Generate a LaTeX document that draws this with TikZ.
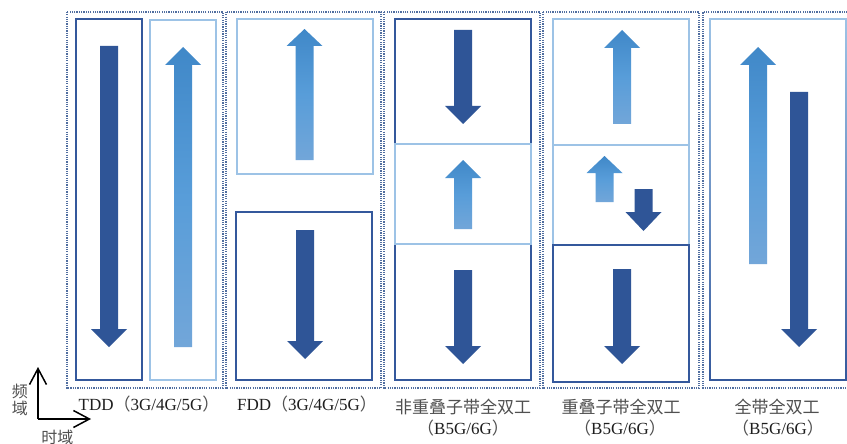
\documentclass[tikz,border=0pt]{standalone}
\usepackage{fontspec}
\setmainfont{Liberation Serif}
\newfontfamily\cjk{Noto Sans CJK SC}
\usetikzlibrary{arrows.meta}
\definecolor{dkblue}{RGB}{47,85,151}
\definecolor{dkline}{RGB}{52,88,156}
\definecolor{ltline}{RGB}{157,195,230}
\definecolor{ultop}{RGB}{64,136,200}
\definecolor{ulmid}{RGB}{88,157,217}
\definecolor{ulbot}{RGB}{114,166,217}
\definecolor{dotc}{RGB}{80,110,160}
\definecolor{txt}{RGB}{30,30,30}
\definecolor{cjktxt}{RGB}{80,80,80}
\tikzset{
  dlarrow/.style={fill=dkblue},
  ularrow/.style={top color=ultop, bottom color=ulbot, middle color=ulmid},
  dlbox/.style={draw=dkline, line width=1.8pt},
  ulbox/.style={draw=ltline, line width=1.8pt},
  groupbox/.style={draw=dotc, line width=1.3pt, dash pattern=on 1.2pt off 1.1pt},
  lbl/.style={text=txt, font=\fontsize{17}{20}\selectfont, inner sep=0pt},
  axislbl/.style={text=cjktxt, font=\cjk\fontsize{16}{19}\selectfont, inner sep=0pt},
  axisline/.style={line width=1.5pt, -{Straight Barb[length=16pt,width=17pt]}}
}
% #1 centre x, #2 shaft end, #3 head base, #4 tip
\newcommand\mydn[4]{\fill[dlarrow] (#1-9,#2) -- (#1+9,#2) -- (#1+9,#3) -- (#1+18,#3) -- (#1,#4) -- (#1-18,#3) -- (#1-9,#3) -- cycle;}
\newcommand\myup[4]{\shade[ularrow] (#1-9,#2) -- (#1+9,#2) -- (#1+9,#3) -- (#1+18,#3) -- (#1,#4) -- (#1-18,#3) -- (#1-9,#3) -- cycle;}
\newcommand\cz[1]{{\cjk\color{cjktxt}#1}}
\begin{document}
\begin{tikzpicture}[x=1pt,y=-1pt]
\useasboundingbox (0,0) rectangle (847,444);
\fill[white] (0,0) rectangle (847,444);

% group frames
\draw[groupbox] (67,12) rectangle (223,388);
\draw[groupbox] (226,12) rectangle (381,388);
\draw[groupbox] (384,12) rectangle (540,388);
\draw[groupbox] (543,12) rectangle (699,388);
\draw[groupbox] (852,12) -- (703,12) -- (703,388) -- (852,388);

% TDD
\draw[dlbox] (76,19) rectangle (142,380);
\draw[ulbox] (150,20) rectangle (216,380);
\mydn{109}{46}{329}{347}
\myup{183}{347}{65}{47}

% FDD
\draw[ulbox] (237,19) rectangle (373,174);
\draw[dlbox] (236,212) rectangle (372,380);
\myup{304.5}{160}{46}{29}
\mydn{305}{230}{341}{359}

% non-overlapping sub-band full duplex
\draw[dlbox] (395,19) rectangle (531,144);
\draw[dlbox] (395,244) rectangle (531,380);
\draw[ulbox] (395,144) rectangle (531,244);
\mydn{463}{30}{106}{124}
\myup{463}{229}{178}{160}
\mydn{463}{270}{346}{364}

% overlapping sub-band full duplex
\draw[ulbox] (553,19) rectangle (689,145);
\draw[ulbox] (553,145) rectangle (689,245);
\draw[ulbox, line width=2.6pt] (553,145) -- (689,145);
\draw[dlbox] (553,245) rectangle (689,382);
\myup{622}{124}{48}{30}
\myup{604.5}{202}{173}{156}
\mydn{643.5}{189}{212}{231}
\mydn{622}{269}{346}{364}

% full-band full duplex
\shade[top color=ltline, bottom color=dkline, middle color=ltline!55!dkline, even odd rule]
  (709.1,18.1) rectangle (846.9,380.9) (710.9,19.9) rectangle (845.1,379.1);
\myup{758}{264}{65}{47}
\mydn{799}{92}{329}{347}

% labels
\node[lbl] (l1) at (149,404) {TDD\cz{（}3G/4G/5G\cz{）}};
\node[lbl] (l2) at (307,404) {FDD\cz{（}3G/4G/5G\cz{）}};
\node[lbl] (l3a) at (463,407) {\cz{非重叠子带全双工}};
\node[lbl] (l3b) at (463,428) {\cz{（}B5G/6G\cz{）}};
\node[lbl] (l4a) at (621,407) {\cz{重叠子带全双工}};
\node[lbl] (l4b) at (620,428) {\cz{（}B5G/6G\cz{）}};
\node[lbl] (l5a) at (777,407) {\cz{全带全双工}};
\node[lbl] (l5b) at (778,428) {\cz{（}B5G/6G\cz{）}};

% axes
\coordinate (ao) at (38,419);
\coordinate (ay) at (38,367);
\coordinate (ax) at (91,419);
\draw[axisline] (ao) -- (ay);
\draw[axisline] (ao) -- (ax);
\node[axislbl] (fy1) at (20,391) {频};
\node[axislbl] (fy2) at (20,408) {域};
\node[axislbl] (sy) at (57.5,437) {时域};
\end{tikzpicture}
\end{document}
